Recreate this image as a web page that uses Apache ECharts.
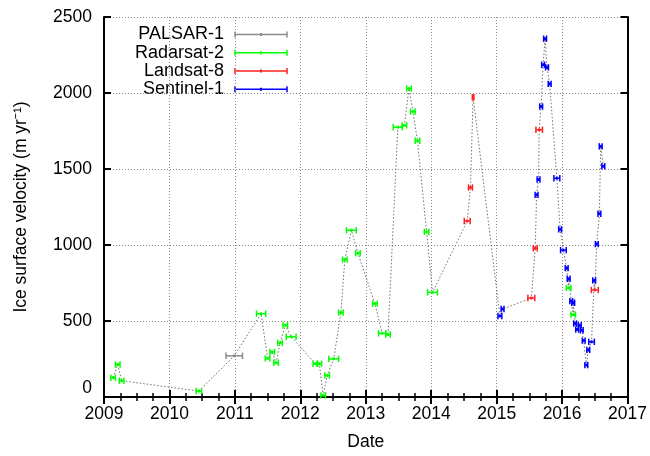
<!DOCTYPE html>
<html><head><meta charset="utf-8">
<script src="https://cdn.jsdelivr.net/npm/echarts@6/dist/echarts.min.js"></script>
<style>html,body{margin:0;padding:0;background:#fff}#c{width:650px;height:456px}</style>
</head><body><div id="c"></div>
<script>
// ---- data (decimal year, velocity m/yr, half-width of date error bar in years)
var palsarDates = [2010.99];
var palsarVel   = [271];
var palsarErr   = [0.126];

var radarsatDates = [2009.14, 2009.21, 2009.27, 2010.45, 2011.40, 2011.50, 2011.57, 2011.63, 2011.69, 2011.77, 2011.86,
                     2012.23, 2012.29, 2012.35, 2012.41, 2012.51, 2012.62, 2012.68, 2012.78, 2012.88, 2013.14, 2013.25,
                     2013.34, 2013.49, 2013.59, 2013.66, 2013.72, 2013.79, 2013.93, 2014.02, 2016.10, 2016.17];
var radarsatVel   = [127, 214, 107, 39, 548, 254, 297, 225, 356, 472, 396,
                     219, 219, 11, 142, 251, 555, 904, 1097, 946, 614, 419,
                     411, 1775, 1787, 2029, 1878, 1686, 1086, 688, 717, 542];
var radarsatErr   = [0.035, 0.035, 0.035, 0.04, 0.07, 0.035, 0.035, 0.035, 0.035, 0.035, 0.075,
                     0.035, 0.035, 0.035, 0.035, 0.075, 0.035, 0.035, 0.075, 0.035, 0.035, 0.055,
                     0.035, 0.07, 0.035, 0.035, 0.035, 0.035, 0.035, 0.075, 0.035, 0.035];

var landsatDates = [2014.55, 2014.60, 2014.64, 2015.53, 2015.59, 2015.65, 2016.50];
var landsatVel   = [1158, 1378, 1972, 651, 979, 1758, 704];
var landsatErr   = [0.045, 0.03, 0.012, 0.053, 0.03, 0.05, 0.053];

var sentinelDates = [2015.05, 2015.09, 2015.61, 2015.64, 2015.68, 2015.71, 2015.74, 2015.77, 2015.81, 2015.92, 2015.97,
                     2016.02, 2016.07, 2016.10, 2016.14, 2016.17, 2016.20, 2016.23, 2016.27, 2016.30, 2016.33, 2016.37,
                     2016.40, 2016.45, 2016.49, 2016.53, 2016.57, 2016.59, 2016.63];
var sentinelVel   = [533, 579, 1330, 1431, 1911, 2186, 2357, 2169, 2060, 1439, 1103,
                     966, 848, 778, 631, 620, 483, 444, 472, 439, 371, 210,
                     310, 363, 767, 1006, 1206, 1649, 1518];
var sentinelErr   = [0.03, 0.022, 0.022, 0.022, 0.022, 0.022, 0.022, 0.022, 0.022, 0.045, 0.022,
                     0.043, 0.022, 0.022, 0.022, 0.022, 0.022, 0.022, 0.022, 0.022, 0.022, 0.022,
                     0.022, 0.043, 0.022, 0.022, 0.022, 0.022, 0.022];

var xTicks = [2009, 2010, 2011, 2012, 2013, 2014, 2015, 2016, 2017];
var yTicks = [0, 500, 1000, 1500, 2000, 2500];

var seriesNames  = ['PALSAR-1', 'Radarsat-2', 'Landsat-8', 'Sentinel-1'];
var seriesColors = ['#8c8c8c', '#00ff00', '#ff2020', '#0000ff'];

// ---- build
function zip(d, v, e) { return d.map(function (x, i) { return [x, v[i], e[i]]; }); }
var sets = [zip(palsarDates, palsarVel, palsarErr), zip(radarsatDates, radarsatVel, radarsatErr),
            zip(landsatDates, landsatVel, landsatErr), zip(sentinelDates, sentinelVel, sentinelErr)];
var all = [];
sets.forEach(function (s) { s.forEach(function (p) { all.push([p[0], p[1]]); }); });
all.sort(function (a, b) { return a[0] - b[0]; });

function makeRender(color) {
  return function (params, api) {
    var x = api.value(0), y = api.value(1), e = api.value(2);
    var l = api.coord([x - e, y]), r = api.coord([x + e, y]), c = api.coord([x, y]);
    var h = 3.2;
    var st = { stroke: color, lineWidth: 1.5 };
    return { type: 'group', children: [
      { type: 'line', shape: { x1: l[0], y1: c[1], x2: r[0], y2: c[1] }, style: st },
      { type: 'line', shape: { x1: l[0], y1: c[1] - h, x2: l[0], y2: c[1] + h }, style: st },
      { type: 'line', shape: { x1: r[0], y1: c[1] - h, x2: r[0], y2: c[1] + h }, style: st },
      { type: 'rect', shape: { x: c[0] - 1, y: c[1] - 1.5, width: 2, height: 3 }, style: { fill: color } }
    ]};
  };
}

var FONT = 'Liberation Sans';
var FS = 17.5;
var series = [{
  type: 'line', data: all, symbol: 'none', silent: true, z: 1,
  lineStyle: { color: '#707070', width: 1, type: [1.5, 2] }
}];
sets.forEach(function (s, i) {
  series.push({ type: 'custom', name: seriesNames[i], data: s, z: 3,
    itemStyle: { color: seriesColors[i] }, renderItem: makeRender(seriesColors[i]), encode: { x: 0, y: 1 } });
});

// legend drawn as graphics (gnuplot-style key)
var graphics = [];
var rowY = [34.5, 52.8, 71, 89.3];
seriesNames.forEach(function (n, i) {
  var y = rowY[i], col = seriesColors[i], st = { stroke: col, lineWidth: 1.5 };
  graphics.push({ type: 'text', x: 224, y: y, style: { text: n, font: '18px "' + FONT + '"', fill: '#000', textAlign: 'right', textVerticalAlign: 'middle' } });
  graphics.push({ type: 'line', shape: { x1: 235, y1: y, x2: 287, y2: y }, style: st });
  graphics.push({ type: 'line', shape: { x1: 235, y1: y - 3, x2: 235, y2: y + 3 }, style: st });
  graphics.push({ type: 'line', shape: { x1: 287, y1: y - 3, x2: 287, y2: y + 3 }, style: st });
  graphics.push({ type: 'rect', shape: { x: 260, y: y - 1.5, width: 2, height: 3 }, style: { fill: col } });
});

var axisLine = { show: true, lineStyle: { color: '#000', width: 2 } };
var split = { show: true, lineStyle: { color: '#8a8a8a', width: 1, type: [1, 2] } };
var chart = echarts.init(document.getElementById('c'), null, { renderer: 'canvas' });
chart.setOption({
  animation: false,
  backgroundColor: '#fff',
  textStyle: { fontFamily: FONT },
  grid: { left: 104, right: 20, top: 17, bottom: 57, containLabel: false },
  xAxis: [{
    type: 'value', min: xTicks[0], max: xTicks[xTicks.length - 1], interval: 1,
    name: 'Date', nameLocation: 'middle', nameGap: 36,
    nameTextStyle: { fontSize: FS, color: '#000', fontFamily: FONT },
    axisLine: axisLine,
    axisTick: { show: true, inside: true, length: 7, lineStyle: { color: '#000', width: 2 } },
    minorTick: { show: true, splitNumber: 4, length: 4, lineStyle: { color: '#000', width: 1.5 } },
    axisLabel: { color: '#000', fontSize: FS, margin: 8, fontFamily: FONT, formatter: function (v) { return String(Math.round(v)); } },
    splitLine: split
  }, {
    type: 'value', position: 'top', min: xTicks[0], max: xTicks[xTicks.length - 1], interval: 1,
    axisLine: axisLine,
    axisTick: { show: true, inside: true, length: 7, lineStyle: { color: '#000', width: 2 } },
    minorTick: { show: true, splitNumber: 4, length: 4, lineStyle: { color: '#000', width: 1.5 } },
    axisLabel: { show: false }, splitLine: { show: false }
  }],
  yAxis: [{
    type: 'value', min: yTicks[0], max: yTicks[yTicks.length - 1], interval: 500,
    name: 'Ice surface velocity (m yr\u207B\u00B9)', nameLocation: 'middle', nameGap: 74, nameRotate: 90,
    nameTextStyle: { fontSize: FS, color: '#000', fontFamily: FONT },
    axisLine: axisLine,
    axisTick: { show: true, inside: true, length: 7, lineStyle: { color: '#000', width: 2 } },
    axisLabel: { color: '#000', fontSize: FS, margin: 12, fontFamily: FONT,
      formatter: function (v) { return v === 0 ? '{z|0}' : String(v); },
      rich: { z: { fontSize: FS, color: '#000', fontFamily: FONT, padding: [0, 0, 18, 0] } } },
    splitLine: split
  }, {
    type: 'value', position: 'right', min: yTicks[0], max: yTicks[yTicks.length - 1], interval: 500,
    axisLine: axisLine,
    axisTick: { show: true, inside: true, length: 7, lineStyle: { color: '#000', width: 2 } },
    axisLabel: { show: false }, splitLine: { show: false }
  }],
  graphic: graphics,
  series: series
});
</script></body></html>
